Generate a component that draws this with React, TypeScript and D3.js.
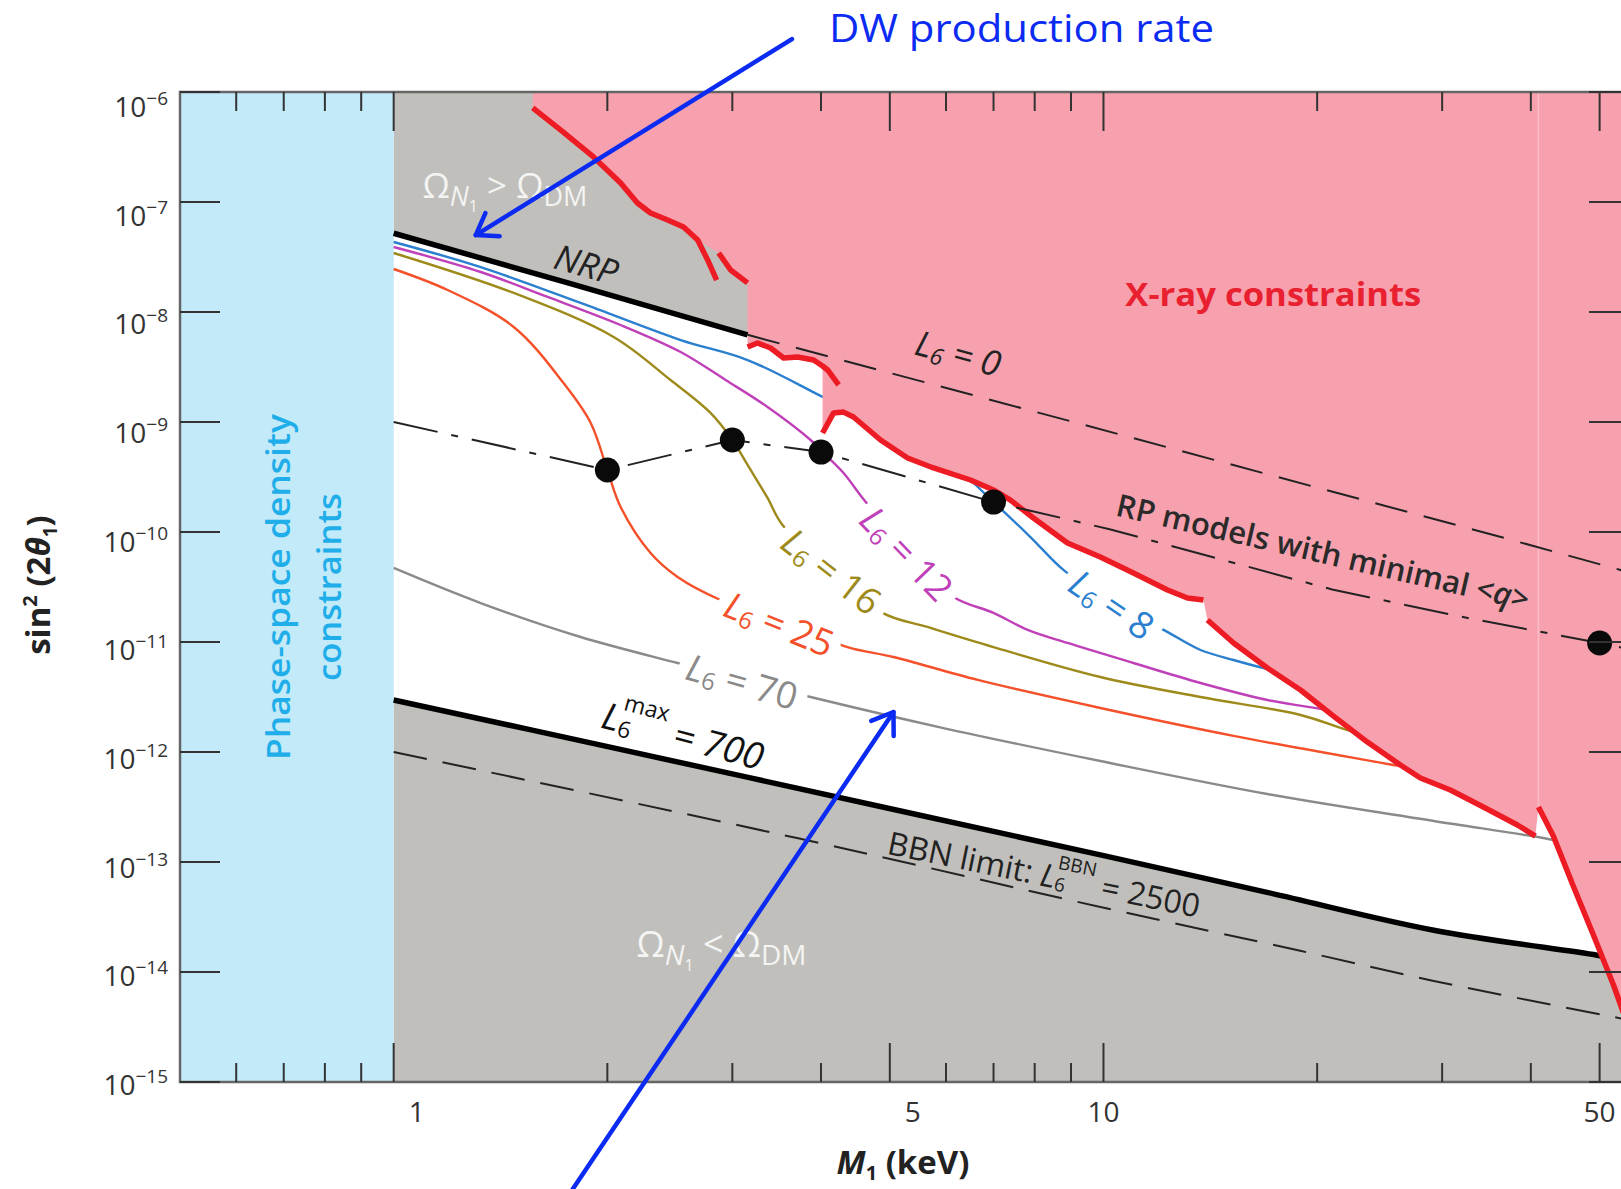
import React from "react";
import * as d3 from "d3";

type P = [number, number];

// ---- axes ----
const xTicksMajor = [1, 5, 10, 50];
const xTicksMinor = [0.6, 0.7, 0.8, 0.9, 2, 3, 4, 6, 7, 8, 9, 20, 30, 40];
const yDecades = [-6, -7, -8, -9, -10, -11, -12, -13, -14, -15];

// ---- curves: [M1 in keV, sin^2(2 theta1)] ----
const nrp: P[] = [[1, 5.2e-8], [1.76, 1.84e-8], [3.152, 6.2e-9], [9.4, 9.4e-10], [36.3, 9.0e-11], [55, 4.3e-11]];
const nrpSolidUntil = 3.152; // beyond this the L6 = 0 line is dashed

const l6max: P[] = [[1, 2.97e-12], [2.04, 1.09e-12], [5.18, 2.91e-13], [9.9, 1.16e-13], [17, 5.3e-14], [29.2, 2.4e-14], [49.6, 1.42e-14], [55, 1.25e-14]];
const bbn: P[] = [[1, 1.0e-12], [3.7, 1.65e-13], [9.9, 3.9e-14], [19, 1.55e-14], [29.2, 8.3e-15], [55, 3.66e-15]];

const l6_8: P[] = [[1, 4.33e-8], [1.326, 2.56e-8], [1.834, 1.21e-8], [2.537, 5.56e-9], [3.152, 3.66e-9], [4.02, 1.69e-9], [5.18, 7.3e-10], [6.29, 3.5e-10], [7, 1.87e-10], [7.89, 9.0e-11], [8.78, 4.52e-11], [10.23, 2.26e-11], [12.15, 1.29e-11], [13.7, 8.46e-12], [15.25, 6.86e-12], [16.8, 5.8e-12], [19, 4.9e-12]];
const l6_12: P[] = [[1, 3.9e-8], [1.326, 2.31e-8], [1.648, 1.37e-8], [2.088, 7.62e-9], [2.537, 4.33e-9], [2.935, 2.41e-9], [3.363, 1.37e-9], [3.867, 6.86e-10], [4.02, 5.33e-10], [4.303, 3.44e-10], [4.577, 2.04e-10], [5.26, 6.86e-11], [6.15, 2.57e-11], [7.0, 1.84e-11], [7.82, 1.29e-11], [8.9, 9.8e-12], [11.02, 6.44e-12], [13.7, 4.24e-12], [17.02, 2.97e-12], [20.68, 2.41e-12], [23, 2.12e-12]];
const l6_16: P[] = [[1, 3.44e-8], [1.476, 1.49e-8], [2.041, 5.93e-9], [2.455, 2.41e-9], [2.795, 1.21e-9], [3.0, 6.86e-10], [3.152, 4.07e-10], [3.363, 2.04e-10], [3.53, 1.16e-10], [4.13, 4.7e-11], [4.884, 1.84e-11], [5.65, 1.37e-11], [7.0, 9.0e-12], [9.9, 4.81e-12], [13.7, 3.16e-12], [18.95, 2.17e-12], [22.5, 1.52e-12], [25.4, 1.29e-12]];
const l6_25: P[] = [[1, 2.46e-8], [1.191, 1.585e-8], [1.476, 7.31e-9], [1.735, 2.26e-9], [1.895, 9.8e-10], [2.0, 3.66e-10], [2.088, 1.69e-10], [2.301, 6.44e-11], [2.512, 3.9e-11], [2.887, 2.41e-11], [3.543, 1.52e-11], [4.359, 9.0e-12], [5.06, 7.31e-12], [6.65, 4.52e-12], [9.9, 2.51e-12], [15.25, 1.4e-12], [25.6, 7.62e-13], [27.96, 6.86e-13]];
const l6_70: P[] = [[1, 4.71e-11], [1.326, 2.26e-11], [1.834, 1.11e-11], [2.512, 6.44e-12], [3.11, 4.52e-12], [3.867, 3.16e-12], [5.95, 1.65e-12], [9.9, 8.28e-13], [17.02, 4.15e-13], [29.2, 2.36e-13], [43.0, 1.585e-13], [45.5, 1.43e-13]];

// RP models with minimal <q> (dash-dot) and its points
const rpLine: P[] = [[1, 1e-9], [2, 3.66e-10], [3, 6.86e-10], [4, 5.33e-10], [7, 1.87e-10], [10.2, 1.06e-10], [21, 3.0e-11], [32.6, 1.65e-11], [50, 9.8e-12], [55, 8.6e-12]];
const rpPoints: P[] = [[2, 3.66e-10], [3, 6.86e-10], [4, 5.33e-10], [7, 1.87e-10], [50, 9.8e-12]];

// X-ray constraint boundary pieces (thick red)
const red1: P[] = [[1.57, 7.16e-7], [1.718, 4.52e-7], [1.912, 2.57e-7], [2.088, 1.49e-7], [2.205, 9.8e-8], [2.301, 7.94e-8], [2.432, 6.86e-8], [2.561, 5.93e-8], [2.681, 4.52e-8], [2.769, 2.97e-8], [2.851, 1.95e-8]];
const red2: P[] = [[2.87, 3.44e-8], [2.983, 2.41e-8], [3.152, 1.84e-8]];
const red3: P[] = [[3.152, 4.81e-9], [3.256, 5.23e-9], [3.396, 4.71e-9], [3.543, 3.82e-9], [3.707, 3.9e-9], [3.905, 3.66e-9], [4.02, 3.23e-9], [4.087, 2.97e-9], [4.235, 2.17e-9]];
const red4: P[] = [[4.02, 7.94e-10], [4.166, 1.21e-9], [4.303, 1.23e-9], [4.445, 1.11e-9], [4.852, 6.86e-10], [5.297, 4.71e-10], [5.763, 3.82e-10], [6.496, 2.97e-10], [7.0, 2.41e-10], [7.396, 1.95e-10], [7.968, 1.34e-10], [8.898, 7.94e-11], [9.9, 5.93e-11], [11.02, 4.24e-11], [12.31, 2.97e-11], [13.13, 2.51e-11], [13.83, 2.41e-11]];
const red5: P[] = [[14.01, 1.585e-11], [15.25, 9.8e-12], [17.02, 5.8e-12], [18.95, 3.66e-12], [21.09, 2.12e-12], [23.54, 1.23e-12], [26.2, 7.62e-13], [27.96, 5.8e-13], [30.81, 4.52e-13], [34.29, 3.16e-13], [38.3, 2.17e-13], [40.6, 1.72e-13]];
const red6: P[] = [[41.0, 3.16e-13], [43.03, 1.72e-13], [45.9, 6.05e-14], [49.0, 2.17e-14], [52.3, 7.62e-15], [55.1, 2.97e-15]];

const W = 1621;
const H = 1189;
const X0 = 180, X1 = 1629, Y0 = 92, Y1 = 1082;

const GRAY = "#c0bfbb";
const PINK = "#f7a1ae";
const CYAN_BG = "#c2eaf8";
const RED = "#ed1c24";
const ARROW = "#0b2bf2";
const FONT = "'Open Sans', 'Noto Sans', 'DejaVu Sans', sans-serif";

const x = d3.scaleLog().domain([0.5, 55]).range([X0, X1]);
const y = d3.scaleLog().domain([1e-15, 1e-6]).range([Y1, Y0]);
// tick labels in the original sit on a slightly tighter spacing than the ticks
const yLab = d3.scaleLog().domain([1e-15, 1e-6]).range([1084, 106]);

const lin = d3.line<P>().x((d) => x(d[0])).y((d) => y(d[1]));
const smooth = d3
  .line<P>()
  .x((d) => x(d[0]))
  .y((d) => y(d[1]))
  .curve(d3.curveCatmullRom.alpha(0.5));

const curves = [
  { data: l6_8, color: "#2b7fcf", value: "8", at: [10.3, 2.25e-11] as P, angle: 34 },
  { data: l6_12, color: "#c040b9", value: "12", at: [5.3, 6.5e-11] as P, angle: 46 },
  { data: l6_16, color: "#9d8a1a", value: "16", at: [4.15, 4.5e-11] as P, angle: 38 },
  { data: l6_25, color: "#f4502a", value: "25", at: [3.5, 1.5e-11] as P, angle: 22 },
  { data: l6_70, color: "#8a8a8a", value: "70", at: [3.1, 4.5e-12] as P, angle: 16 },
];

const xrayRegion: P[] = [
  [red1[0][0], 1e-6],
  ...red1.filter((d) => d[0] <= 2.69),
  ...red2,
  ...red3.filter((d) => d[0] <= 4.02),
  ...red4,
  ...red5,
  ...red6,
  [55.1, 1e-6],
];

function arrow(from: P, to: P) {
  const x1 = x(from[0]), y1 = y(from[1]), x2 = x(to[0]), y2 = y(to[1]);
  const a = Math.atan2(y2 - y1, x2 - x1);
  const len = 24, spread = 0.6;
  const h1 = [x2 - len * Math.cos(a - spread), y2 - len * Math.sin(a - spread)];
  const h2 = [x2 - len * Math.cos(a + spread), y2 - len * Math.sin(a + spread)];
  return {
    line: `M${x1},${y1}L${x2},${y2}`,
    head: `M${h1[0]},${h1[1]}L${x2},${y2}L${h2[0]},${h2[1]}`,
  };
}

const arrowTop = arrow([3.64, 3.03e-6], [1.305, 5.0e-8]);
const arrowBottom = arrow([1.787, 1.06e-16], [5.06, 2.31e-12]);

const rot = (p: P, a: number) => `translate(${x(p[0])},${y(p[1])}) rotate(${a})`;

function CurveLabel({ c, knock }: { c: (typeof curves)[number]; knock?: boolean }) {
  return (
    <text
      transform={rot(c.at, c.angle)}
      textAnchor="middle"
      dominantBaseline="central"
      fontSize={37}
      fill={knock ? "#000" : c.color}
      stroke={knock ? "#000" : "none"}
      strokeWidth={knock ? 24 : 0}
      strokeLinejoin="round"
    >
      <tspan fontStyle="italic">L</tspan>
      <tspan fontSize={24} dy={9}>6</tspan>
      <tspan dy={-9}> = {c.value}</tspan>
    </text>
  );
}

export default function App() {
  const band = smooth([...nrp, ...[...l6max].reverse()]) + "Z";

  return (
    <div style={{ position: "absolute", left: 0, top: 0 }}>
      <svg width={W} height={H} style={{ display: "block", background: "#fff" }} fontFamily={FONT}>
        <defs>
          <clipPath id="plotClip">
            <rect x={X0} y={Y0} width={X1 - X0} height={Y1 - Y0} />
          </clipPath>
          {/* knock the L6 curves out where their labels sit */}
          <mask id="labelGaps" maskUnits="userSpaceOnUse" x={0} y={0} width={W} height={H}>
            <rect x={0} y={0} width={W} height={H} fill="#fff" />
            {curves.map((c) => (
              <CurveLabel key={c.value} c={c} knock />
            ))}
          </mask>
        </defs>

        <g clipPath="url(#plotClip)">
          <rect x={x(1)} y={Y0} width={X1 - x(1)} height={Y1 - Y0} fill={GRAY} />
          <path d={band} fill="#fff" />
          <rect x={X0} y={Y0} width={x(1) - X0} height={Y1 - Y0} fill={CYAN_BG} />

          <g mask="url(#labelGaps)">
            {curves.map((c) => (
              <path key={c.value} d={smooth(c.data) || ""} fill="none" stroke={c.color} strokeWidth={2.4} />
            ))}
          </g>

          <path d={smooth(l6max) || ""} fill="none" stroke="#000" strokeWidth={5.5} />
          <path d={smooth(bbn) || ""} fill="none" stroke="#222" strokeWidth={2} strokeDasharray="34 16" />

          <path d={lin(xrayRegion) + "Z"} fill={PINK} />
          <line x1={x(red6[0][0])} x2={x(red6[0][0])} y1={Y0} y2={y(red6[0][1])} stroke="#fbbdc7" strokeWidth={1.5} />

          {[red1, red2, red3, red4, red5, red6].map((seg, i) => (
            <path key={i} d={lin(seg) || ""} fill="none" stroke={RED} strokeWidth={5.5} strokeLinejoin="round" />
          ))}

          <path d={lin(nrp.filter((d) => d[0] <= nrpSolidUntil)) || ""} fill="none" stroke="#000" strokeWidth={5.5} />
          <path d={lin(nrp.filter((d) => d[0] >= nrpSolidUntil)) || ""} fill="none" stroke="#222" strokeWidth={2} strokeDasharray="33 17" />

          <path d={lin(rpLine) || ""} fill="none" stroke="#222" strokeWidth={2} strokeDasharray="45 14 7 14" />
          {rpPoints.map((d, i) => (
            <circle key={i} cx={x(d[0])} cy={y(d[1])} r={12.5} fill="#0a0a0a" />
          ))}
        </g>

        {/* frame */}
        <rect x={X0} y={Y0} width={X1 - X0} height={Y1 - Y0} fill="none" stroke="#666" strokeWidth={2.5} />

        {/* ticks */}
        <g stroke="#333" strokeWidth={2}>
          {xTicksMajor.concat(xTicksMinor).map((v) => {
            const len = xTicksMajor.includes(v) ? 39 : 19;
            return (
              <g key={v}>
                <line x1={x(v)} x2={x(v)} y1={Y1} y2={Y1 - len} />
                <line x1={x(v)} x2={x(v)} y1={Y0} y2={Y0 + len} />
              </g>
            );
          })}
          {yDecades.map((e) => (
            <g key={e}>
              <line x1={X0} x2={X0 + 40} y1={y(10 ** e)} y2={y(10 ** e)} />
              <line x1={X1} x2={X1 - 40} y1={y(10 ** e)} y2={y(10 ** e)} />
            </g>
          ))}
        </g>

        {/* tick labels */}
        <g fill="#333" fontSize={28}>
          {yDecades.map((e) => (
            <text key={e} x={168} y={yLab(10 ** e)} textAnchor="end" dominantBaseline="central">
              10
              <tspan fontSize={19} dy={-8}>{"\u2212" + -e}</tspan>
            </text>
          ))}
          {xTicksMajor.map((v) => (
            <text key={v} x={x(v) + (String(v).length === 1 ? 23 : 0)} y={1122} textAnchor="middle">
              {v}
            </text>
          ))}
        </g>

        {/* axis titles */}
        <text transform="translate(50,585) rotate(-90)" textAnchor="middle" fontSize={33} fontWeight={700} fill="#222">
          sin<tspan fontSize={20} dy={-13}>2</tspan>
          <tspan dy={13}> (2</tspan>
          <tspan fontStyle="italic">θ</tspan>
          <tspan fontSize={19} dy={7}>1</tspan>
          <tspan dy={-7}>)</tspan>
        </text>
        <text x={903} y={1174} textAnchor="middle" fontSize={33} fontWeight={700} fill="#222">
          <tspan fontStyle="italic">M</tspan>
          <tspan fontSize={20} dy={6}>1</tspan>
          <tspan dy={-6}> (keV)</tspan>
        </text>

        {/* phase space text */}
        <g fill="#1faee9" fontSize={33} fontWeight={600} textAnchor="middle" dominantBaseline="central">
          <text transform={rot([0.687, 3.16e-11], -90)} textLength={346} lengthAdjust="spacingAndGlyphs">Phase-space density</text>
          <text transform={rot([0.81, 3.16e-11], -90)} textLength={188} lengthAdjust="spacingAndGlyphs">constraints</text>
        </g>

        {/* region labels */}
        <text x={x(1.098)} y={y(1.09e-7)} fontSize={35} fill="#f4f4f2">
          Ω<tspan fontSize={27} fontStyle="italic" dy={8}>N</tspan>
          <tspan fontSize={16} dy={6}>1</tspan>
          <tspan dy={-14}> {">"} Ω</tspan>
          <tspan fontSize={27} dy={8}>DM</tspan>
        </text>
        <text x={x(2.199)} y={y(1.37e-14)} fontSize={36} fill="#f4f4f2">
          Ω<tspan fontSize={28} fontStyle="italic" dy={8}>N</tspan>
          <tspan fontSize={16} dy={6}>1</tspan>
          <tspan dy={-14}> {"<"} Ω</tspan>
          <tspan fontSize={28} dy={8}>DM</tspan>
        </text>
        <text x={x(17.35)} y={y(1.13e-8)} textAnchor="middle" fontSize={33} fontWeight={700} fill="#e8202f" textLength={296} lengthAdjust="spacingAndGlyphs">
          X-ray constraints
        </text>

        {/* line labels */}
        <text transform={rot([1.87, 2.75e-8], 16)} textAnchor="middle" dominantBaseline="central" fontSize={35} fontStyle="italic" fill="#222">
          NRP
        </text>
        <text transform={rot([6.25, 4.3e-9], 15)} textAnchor="middle" dominantBaseline="central" fontSize={35} fontStyle="italic" fill="#222">
          L<tspan fontSize={23} dy={9}>6</tspan>
          <tspan dy={-9}> = 0</tspan>
        </text>
        <text transform={rot([20.4, 6.7e-11], 13)} textAnchor="middle" dominantBaseline="central" fontSize={31} fontWeight={600} fill="#2a2a2a">
          RP models with minimal {"<"}<tspan fontStyle="italic">q</tspan>{">"}
        </text>
        <text transform={rot([2.56, 1.45e-12], 15)} textAnchor="middle" dominantBaseline="central" fontSize={37} fill="#111">
          <tspan fontStyle="italic">L</tspan>
          <tspan fontSize={23} dy={10}>6</tspan>
          <tspan fontSize={23} dx={-13} dy={-27}>max</tspan>
          <tspan dy={17} fontStyle="italic"> = 700</tspan>
        </text>
        <text transform={rot([8.25, 7.9e-14], 11.5)} textAnchor="middle" dominantBaseline="central" fontSize={32} fill="#222">
          BBN limit: <tspan fontStyle="italic">L</tspan>
          <tspan fontSize={19} dy={8}>6</tspan>
          <tspan fontSize={19} dx={-11} dy={-22}>BBN</tspan>
          <tspan dy={14}> = 2500</tspan>
        </text>

        {curves.map((c) => (
          <CurveLabel key={c.value} c={c} />
        ))}

        {/* blue annotation */}
        <text x={829} y={42} fontSize={38} fill={ARROW} textLength={385} lengthAdjust="spacingAndGlyphs">
          DW production rate
        </text>
        {[arrowTop, arrowBottom].map((a, i) => (
          <g key={i} fill="none" stroke={ARROW} strokeWidth={4.5} strokeLinecap="round" strokeLinejoin="round">
            <path d={a.line} />
            <path d={a.head} />
          </g>
        ))}
      </svg>
    </div>
  );
}
